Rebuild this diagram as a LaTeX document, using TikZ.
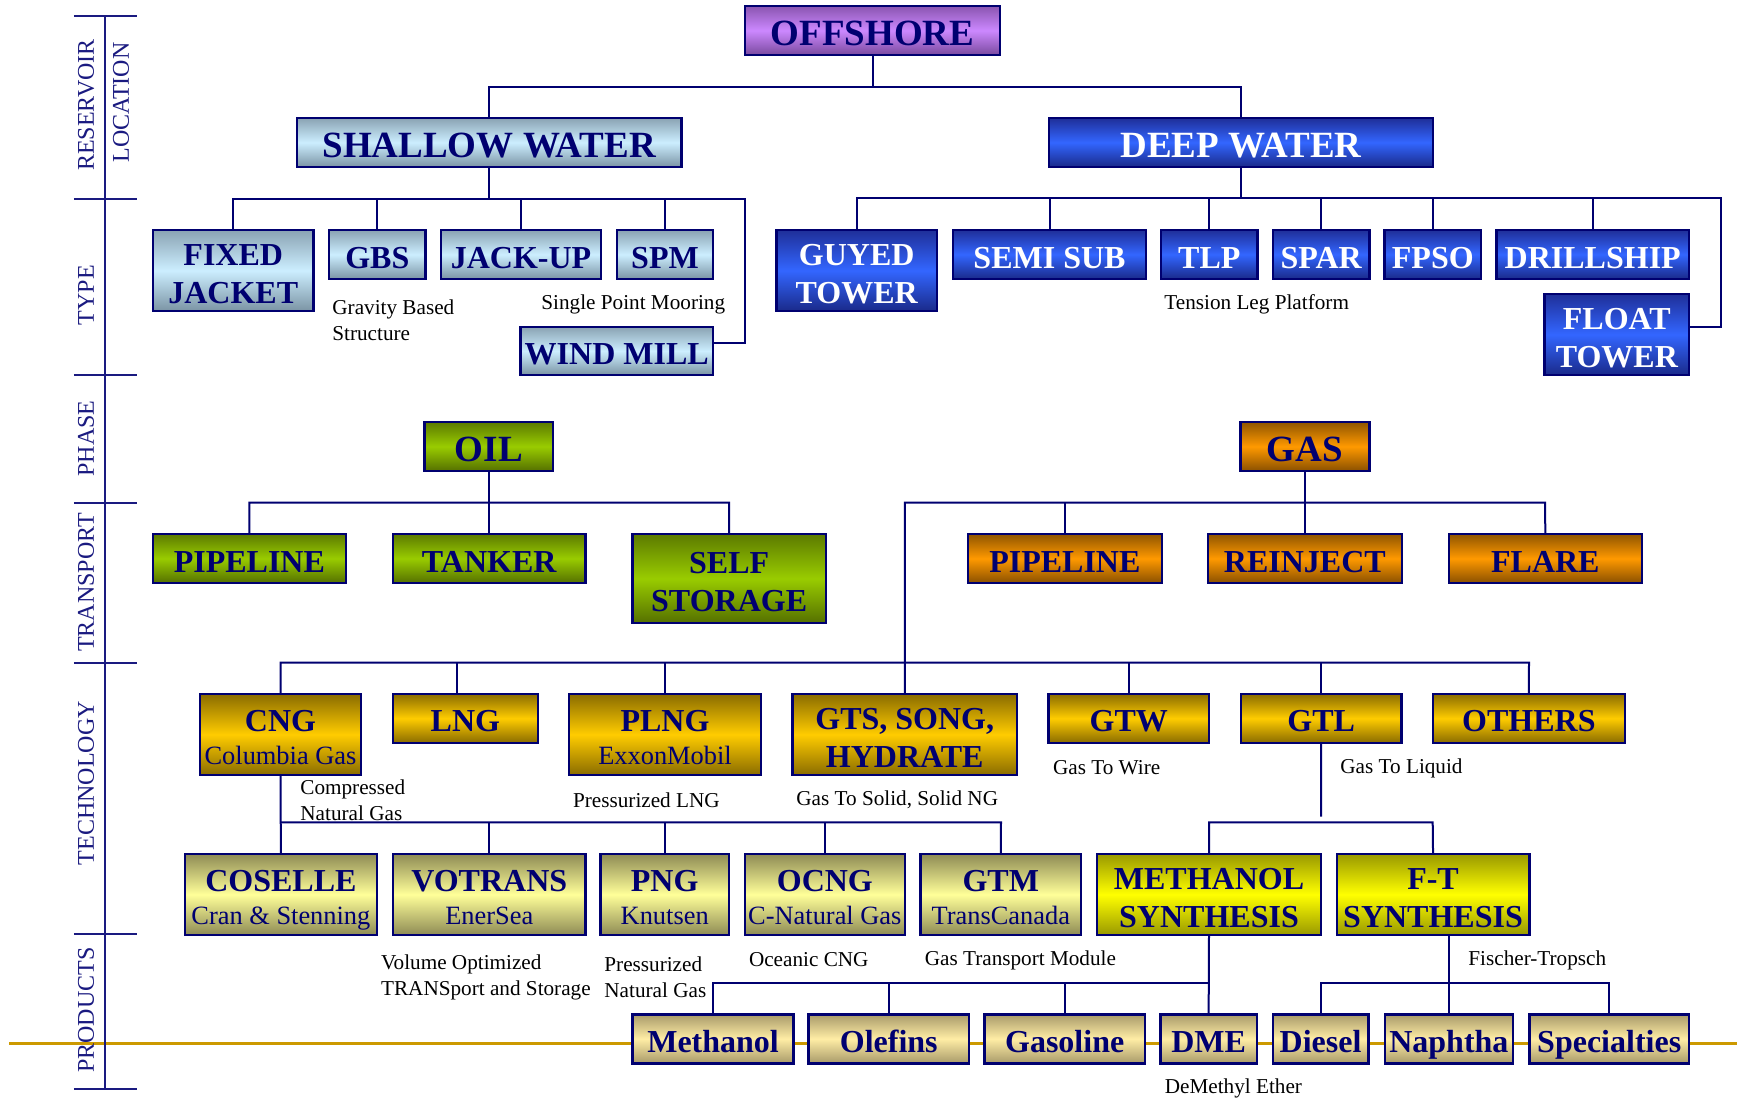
\documentclass[tikz,border=0pt]{standalone}
\usepackage{fontspec}
\setmainfont{Liberation Serif}
\definecolor{navy}{HTML}{000070}
\definecolor{axnavy}{HTML}{1A1A80}
\definecolor{goldline}{HTML}{CC9900}
\definecolor{offA}{HTML}{8A55B0}\definecolor{offM}{HTML}{CC88FF}\definecolor{offB}{HTML}{7A4A9E}
\definecolor{shA}{HTML}{8AA3B3}\definecolor{shM}{HTML}{CCEEFF}\definecolor{shB}{HTML}{7B94A4}
\definecolor{dpA}{HTML}{1F2F99}\definecolor{dpM}{HTML}{3366FF}\definecolor{dpB}{HTML}{1A2A8A}
\definecolor{oiA}{HTML}{5C7A00}\definecolor{oiM}{HTML}{99CC00}\definecolor{oiB}{HTML}{557000}
\definecolor{gaA}{HTML}{8F5500}\definecolor{gaM}{HTML}{FF9900}\definecolor{gaB}{HTML}{8A5000}
\definecolor{teA}{HTML}{8A6C00}\definecolor{teM}{HTML}{FFCC00}\definecolor{teB}{HTML}{8A6C00}
\definecolor{lyA}{HTML}{8E8B55}\definecolor{lyM}{HTML}{FFFF99}\definecolor{lyB}{HTML}{8E8B55}
\definecolor{syA}{HTML}{999900}\definecolor{syM}{HTML}{FFFF00}\definecolor{syB}{HTML}{999900}
\definecolor{prA}{HTML}{A89A6A}\definecolor{prM}{HTML}{FFEDA5}\definecolor{prB}{HTML}{A89A6A}
\newcommand\fBig{\fontsize{18.5}{20}\selectfont\bfseries}
\newcommand\fBox{\fontsize{16}{19}\selectfont\bfseries}
\newcommand\fSub{\fontsize{13.2}{16}\selectfont\mdseries}
\newcommand\fAnn{\fontsize{10.6}{13}\selectfont}
\newcommand\fAx{\fontsize{12}{14}\selectfont}
% struts: box text (first line top / last line bottom)
\newcommand\sT{\rule{0pt}{17.5pt}}
\newcommand\sD{\rule[-4pt]{0pt}{4pt}}
\newcommand\gT{\rule{0pt}{19.6pt}}
\newcommand\gD{\rule[-4.5pt]{0pt}{4.5pt}}
\begin{document}
\begin{tikzpicture}[x=0.5pt,y=-0.5pt,
 conn/.style={draw=navy, line width=1pt},
 axline/.style={draw=axnavy, line width=1pt},
 box/.style={draw=navy, line width=1.2pt, inner sep=0pt, outer sep=0pt, align=center, text=navy, font=\fBox},
 bigtxt/.style={font=\fBig},
 bx/.style n args={4}{minimum width={(#2-#1)*0.5pt}, minimum height={(#4-#3)*0.5pt}, at={({(#1+#2)/2},{(#3+#4)/2})}},
 fOff/.style={top color=offA, bottom color=offB, middle color=offM},
 fShal/.style={top color=shA, bottom color=shB, middle color=shM},
 fDeep/.style={top color=dpA, bottom color=dpB, middle color=dpM, text=white},
 fOil/.style={top color=oiA, bottom color=oiB, middle color=oiM},
 fGas/.style={top color=gaA, bottom color=gaB, middle color=gaM},
 fTech/.style={top color=teA, bottom color=teB, middle color=teM},
 fLy/.style={top color=lyA, bottom color=lyB, middle color=lyM},
 fSyn/.style={top color=syA, bottom color=syB, middle color=syM},
 fProd/.style={top color=prA, bottom color=prB, middle color=prM},
 anno/.style={inner sep=0pt, font=\fAnn, text=black, anchor=west, align=left},
 axlab/.style={inner sep=0pt, font=\fAx, text=axnavy, rotate=90}
]
\useasboundingbox (0,0) rectangle (1741,1098);
% gold line
\coordinate (gl1) at (9,1043.3);
\coordinate (gl2) at (1737,1043.3);
\draw[draw=goldline, line width=1.8pt] (gl1) -- (gl2);
% axis
\coordinate (ax1) at (104.5,15.7);
\coordinate (ax2) at (104.5,1088.7);
\draw[axline] (ax1) -- (ax2);
\foreach \yy in {15.7,198.7,374.7,502.7,662.7,934.3,1088.7}
  \draw[axline] (73.8,\yy) -- (136.5,\yy);
\node[axlab] (lres) at (86,105) {RESERVOIR};
\node[axlab] (lloc) at (121,102.5) {LOCATION};
\node[axlab] (ltyp) at (86,295) {TYPE};
\node[axlab] (lpha) at (86,438.5) {PHASE};
\node[axlab] (ltra) at (86,582.5) {TRANSPORT};
\node[axlab] (ltec) at (86,783) {TECHNOLOGY};
\node[axlab] (lpro) at (86,1010) {PRODUCTS};
% level 1
\node[box, fOff, bigtxt, bx={745}{1000}{6}{55}] (offshore) {\gT OFFSHORE\gD};
\node[box, fShal, bigtxt, bx={297}{681.5}{118}{167}] (shallow) {\gT SHALLOW WATER\gD};
\node[box, fDeep, bigtxt, bx={1049}{1433}{118}{167}] (deep) {\gT DEEP WATER\gD};
% type shallow
\node[box, fShal, bx={153}{313.5}{230}{311}] (fixed) {\sT FIXED\\JACKET\sD};
\node[box, fShal, bx={329}{425.6}{230}{279}] (gbs) {\sT GBS\sD};
\node[box, fShal, bx={441}{601}{230}{279}] (jackup) {\sT JACK-UP\sD};
\node[box, fShal, bx={617}{713}{230}{279}] (spm) {\sT SPM\sD};
\node[box, fShal, bx={520.5}{713}{327}{375}] (windmill) {\sT WIND MILL\sD};
% type deep
\node[box, fDeep, bx={776.5}{937}{230}{311}] (guyed) {\sT GUYED\\TOWER\sD};
\node[box, fDeep, bx={953}{1146}{230}{279}] (semisub) {\sT SEMI SUB\sD};
\node[box, fDeep, bx={1161}{1257.6}{230}{279}] (tlp) {\sT TLP\sD};
\node[box, fDeep, bx={1273}{1369.5}{230}{279}] (spar) {\sT SPAR\sD};
\node[box, fDeep, bx={1384.6}{1481}{230}{279}] (fpso) {\sT FPSO\sD};
\node[box, fDeep, bx={1496.5}{1689}{230}{279}] (drillship) {\sT DRILLSHIP\sD};
\node[box, fDeep, bx={1544.6}{1689}{294}{375}] (float) {\sT FLOAT\\TOWER\sD};
% phase
\node[box, fOil, bigtxt, bx={424.5}{553}{422}{471}] (oil) {\gT OIL\gD};
\node[box, fGas, bigtxt, bx={1240.6}{1369.4}{422}{471}] (gas) {\gT GAS\gD};
% transport
\node[box, fOil, bx={153}{345.7}{534}{583}] (pipeline) {\sT PIPELINE\sD};
\node[box, fOil, bx={393}{585.5}{534}{583}] (tanker) {\sT TANKER\sD};
\node[box, fOil, bx={632.6}{825.7}{534}{623}] (selfstorage) {\sT SELF\\STORAGE\sD};
\node[box, fGas, bx={968}{1161.7}{534}{583}] (gpipeline) {\sT PIPELINE\sD};
\node[box, fGas, bx={1208}{1401.7}{534}{583}] (reinject) {\sT REINJECT\sD};
\node[box, fGas, bx={1449}{1641.7}{534}{583}] (flare) {\sT FLARE\sD};
% technology
\node[box, fTech, bx={200}{361}{694}{775}] (cng) {\sT CNG\\[-2.1pt]\fSub Columbia Gas\sD};
\node[box, fTech, bx={393}{537.7}{694}{742.7}] (lng) {\sT LNG\sD};
\node[box, fTech, bx={569}{761}{694}{775}] (plng) {\sT PLNG\\[-2.1pt]\fSub ExxonMobil\sD};
\node[box, fTech, bx={792.5}{1017}{694}{775}] (gts) {\sT GTS, SONG,\\HYDRATE\sD};
\node[box, fTech, bx={1048.5}{1209}{694}{742.7}] (gtw) {\sT GTW\sD};
\node[box, fTech, bx={1241}{1401.4}{694}{742.7}] (gtl) {\sT GTL\sD};
\node[box, fTech, bx={1432.7}{1625}{694}{742.7}] (others) {\sT OTHERS\sD};
% technology row 2
\node[box, fLy, bx={184.8}{377}{854}{935}] (coselle) {\sT COSELLE\\[-2.1pt]\fSub Cran \& Stenning\sD};
\node[box, fLy, bx={393}{585.5}{854}{935}] (votrans) {\sT VOTRANS\\[-2.1pt]\fSub EnerSea\sD};
\node[box, fLy, bx={600.4}{729}{854}{935}] (png) {\sT PNG\\[-2.1pt]\fSub Knutsen\sD};
\node[box, fLy, bx={744.7}{905}{854}{935}] (ocng) {\sT OCNG\\[-2.1pt]\fSub C-Natural Gas\sD};
\node[box, fLy, bx={920.6}{1081}{854}{935}] (gtm) {\sT GTM\\[-2.1pt]\fSub TransCanada\sD};
\node[box, fSyn, bx={1097}{1321}{854}{935}] (methsyn) {\sT METHANOL\\SYNTHESIS\sD};
\node[box, fSyn, bx={1336.7}{1529.4}{854}{935}] (ftsyn) {\sT F-T\\SYNTHESIS\sD};
% products
\node[box, fProd, bx={632.6}{793.6}{1014.3}{1063.3}] (methanol) {\sT Methanol\sD};
\node[box, fProd, bx={808.5}{969}{1014.3}{1063.3}] (olefins) {\sT Olefins\sD};
\node[box, fProd, bx={984.4}{1145}{1014.3}{1063.3}] (gasoline) {\sT Gasoline\sD};
\node[box, fProd, bx={1160.6}{1256.7}{1014.3}{1063.3}] (dme) {\sT DME\sD};
\node[box, fProd, bx={1272.8}{1368.3}{1014.3}{1063.3}] (diesel) {\sT Diesel\sD};
\node[box, fProd, bx={1385}{1512.8}{1014.3}{1063.3}] (naphtha) {\sT Naphtha\sD};
\node[box, fProd, bx={1529.4}{1689}{1014.3}{1063.3}] (specialties) {\sT Specialties\sD};
% annotations
\node[anno] (agbs) at (332,320) {Gravity Based\\Structure};
\node[anno] (aspm) at (541,304) {Single Point Mooring};
\node[anno] (atlp) at (1164,304) {Tension Leg Platform};
\node[anno] (acng) at (300,800.5) {Compressed\\Natural Gas};
\node[anno] (aplng) at (572.7,800) {Pressurized LNG};
\node[anno] (agts) at (796,800) {Gas To Solid, Solid NG};
\node[anno] (agtw) at (1052.7,768) {Gas To Wire};
\node[anno] (agtl) at (1340,768) {Gas To Liquid};
\node[anno] (avot) at (380.7,977) {Volume Optimized\\TRANSport and Storage};
\node[anno] (apng) at (604,977) {Pressurized\\Natural Gas};
\node[anno] (aocng) at (748.6,960) {Oceanic CNG};
\node[anno] (agtm) at (924.4,960) {Gas Transport Module};
\node[anno] (aft) at (1468,960) {Fischer-Tropsch};
\node[anno] (adme) at (1164.4,1088) {DeMethyl Ether};
% connectors: offshore
\coordinate (b0L) at (489,86.7);
\coordinate (b0R) at (1241,86.7);
\draw[conn] (offshore.south) -- (offshore.south |- b0L);
\draw[conn] (shallow.north) |- (b0R) -- (deep.north);
% shallow types
\coordinate (s1) at (233,198.7);
\coordinate (s2) at (745,198.7);
\coordinate (s3) at (745,343);
\draw[conn] (shallow.south) -- (shallow.south |- s1);
\draw[conn] (fixed.north) |- (s2) -- (s3) -- (windmill.east |- s3);
\foreach \n in {gbs,jackup,spm} \draw[conn] (\n.north) -- (\n.north |- s1);
% deep types
\coordinate (d1) at (857,198.3);
\coordinate (d2) at (1721,198.3);
\coordinate (d3) at (1721,327);
\draw[conn] (deep.south) -- (deep.south |- d1);
\draw[conn] (guyed.north) |- (d2) -- (d3) -- (float.east |- d3);
\foreach \n in {semisub,tlp,spar,fpso,drillship} \draw[conn] (\n.north) -- (\n.north |- d1);
% oil
\coordinate (o1) at (249,502.7);
\coordinate (o2) at (729,502.7);
\draw[conn] (oil.south) -- (oil.south |- o1);
\draw[conn] (pipeline.north) |- (o2) -- (selfstorage.north);
\draw[conn] (tanker.north) -- (tanker.north |- o1);
% gas
\coordinate (g1) at (905,502.7);
\coordinate (g2) at (1545,502.7);
\draw[conn] (gas.south) -- (gas.south |- g1);
\draw[conn] (gts.north) -- (gts.north |- g1) -- (g2) -- (flare.north);
\foreach \n in {gpipeline,reinject} \draw[conn] (\n.north) -- (\n.north |- g1);
% technology bus
\coordinate (t1) at (281,662.7);
\coordinate (t2) at (1529,662.7);
\draw[conn] (cng.north) |- (t2) -- (others.north);
\draw[conn] ([xshift=-4.2pt]lng.north) -- ([xshift=-4.2pt]lng.north |- t1);
\foreach \n in {plng,gtw,gtl} \draw[conn] (\n.north) -- (\n.north |- t1);
% cng family
\coordinate (c1) at (281,822.3);
\coordinate (c2) at (1001,822.3);
\draw[conn] (cng.south) -- (coselle.north);
\draw[conn] (c1) -- (c2) -- (gtm.north);
\foreach \n in {votrans,png,ocng} \draw[conn] (\n.north) -- (\n.north |- c1);
% gtl family
\coordinate (l0) at (1321,816.7);
\coordinate (l2) at (1432.7,822.3);
\draw[conn] (gtl.south) -- (l0);
\draw[conn] (methsyn.north) |- (l2) -- (ftsyn.north);
% methanol products
\coordinate (m1) at (713,982.7);
\draw[conn] (methanol.north) |- (methsyn.south |- m1);
\draw[conn] (methsyn.south) -- (dme.north);
\foreach \n in {olefins,gasoline} \draw[conn] (\n.north) -- (\n.north |- m1);
% ft products
\draw[conn] (naphtha.north |- ftsyn.south) -- (naphtha.north);
\draw[conn] (diesel.north) |- (specialties.north |- m1) -- (specialties.north);
\end{tikzpicture}
\end{document}
